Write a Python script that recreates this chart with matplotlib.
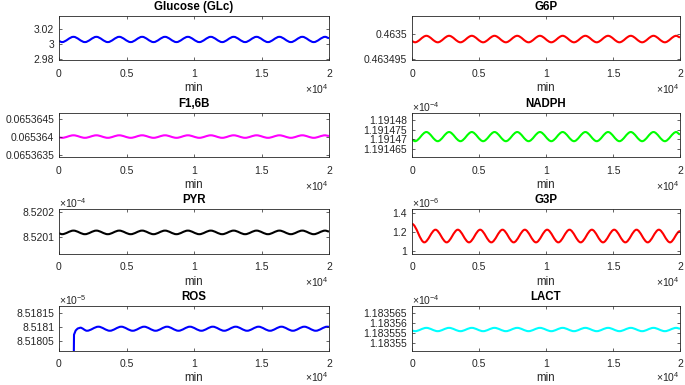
import matplotlib
matplotlib.use('Agg')
import matplotlib.pyplot as plt
from matplotlib.path import Path
from matplotlib.patches import PathPatch

plt.rcParams['font.family'] = ['Liberation Sans', 'DejaVu Sans']
plt.rcParams['mathtext.fontset'] = 'custom'
plt.rcParams['mathtext.rm'] = 'Liberation Sans'
plt.rcParams['mathtext.it'] = 'Liberation Sans:italic'
plt.rcParams['mathtext.bf'] = 'Liberation Sans:bold'

GRAY = '#262626'

# ------------------------------------------------------------
# data (min); knots = start, alternating troughs/peaks, end
# ------------------------------------------------------------
t_osc = [0, 225, 1072, 1920, 2767, 3615, 4462, 5310, 6157, 7005, 7852, 8700,
         9547, 10395, 11242, 12090, 12937, 13785, 14632, 15480, 16327, 17175,
         18022, 18870, 19717, 20000]

glucose = [3.0042] + [3.003, 3.010] * 12 + [3.0083]
g6p = [0.4634985] + [0.4634983, 0.4634996] * 12 + [0.4634993]
f16b = [0.06536399] + [0.06536398, 0.06536405] * 12 + [0.06536403]
nadph = [1.1914699] + [1.1914691, 1.1914738] * 12 + [1.1914726]      # x1e-4
pyr = [8.520113] + [8.5201098, 8.5201246] * 12 + [8.5201209]          # x1e-4
lact = [1.1835562] + [1.1835559, 1.1835576] * 12 + [1.1835572]        # x1e-4

t_g3p = [0, 920, 1753, 2587, 3420, 4254, 5087, 5921, 6754, 7588, 8421, 9255,
         10088, 10922, 11755, 12589, 13422, 14256, 15089, 15923, 16756, 17590,
         18423, 19257, 20000]
g3p = [1.287] + [1.09, 1.225] * 11 + [1.09, 1.21]                     # x1e-6

t_ros = [1075, 1112, 1236, 1384, 1582, 2070, 2917, 3765, 4612, 5460, 6307,
         7155, 8002, 8850, 9697, 10545, 11392, 12240, 13087, 13935, 14782,
         15630, 16477, 17325, 18172, 19020, 19867, 20000]
ros = [8.5179, 8.518074, 8.518089, 8.518096, 8.518099] + \
      [8.518088, 8.5181025] * 11 + [8.518102]                          # x1e-5

x_ticks = [0, 5000, 10000, 15000, 20000]
x_ticklabels = ['0', '0.5', '1', '1.5', '2']

panels = [
    # title, t, y, color, yticks, yticklabels, ylim, exponent, n_linear
    ('Glucose (GLc)', t_osc, glucose, (0, 0, 1), [2.98, 3.0, 3.02],
     ['2.98', '3', '3.02'], (2.979, 3.038), None, 0),
    ('G6P', t_osc, g6p, (1, 0, 0), [0.463495, 0.4635],
     ['0.463495', '0.4635'], (0.46349472, 0.46350362), None, 0),
    ('F1,6B', t_osc, f16b, (1, 0, 1), [0.0653635, 0.065364, 0.0653645],
     ['0.0653635', '0.065364', '0.0653645'], (0.06536344, 0.06536468), None, 0),
    ('NADPH', t_osc, nadph, (0, 1, 0), [1.191465, 1.19147, 1.191475, 1.19148],
     ['1.191465', '1.19147', '1.191475', '1.19148'], (1.1914609, 1.1914837), '-4', 0),
    ('PYR', t_osc, pyr, (0, 0, 0), [8.5201, 8.5202],
     ['8.5201', '8.5202'], (8.5200291, 8.5202123), '-4', 0),
    ('G3P', t_g3p, g3p, (1, 0, 0), [1.0, 1.2, 1.4],
     ['1', '1.2', '1.4'], (0.968, 1.4426), '-6', 0),
    ('ROS', t_ros, ros, (0, 0, 1), [8.51805, 8.5181, 8.51815],
     ['8.51805', '8.5181', '8.51815'], (8.5180174, 8.5181765), '-5', 4),
    ('LACT', t_osc, lact, (0, 1, 1), [1.18355, 1.183555, 1.18356, 1.183565],
     ['1.18355', '1.183555', '1.18356', '1.183565'], (1.183546, 1.1835688), '-4', 0),
]


def smooth_line(ax, t, y, color, n_linear=0):
    # cubic segments with flat tangents at each knot (peaks / troughs)
    verts = [(t[0], y[0])]
    codes = [Path.MOVETO]
    for i in range(len(t) - 1):
        if i < n_linear:
            verts.append((t[i + 1], y[i + 1]))
            codes.append(Path.LINETO)
            continue
        d = (t[i + 1] - t[i]) / 3.0
        verts += [(t[i] + d, y[i]), (t[i + 1] - d, y[i + 1]), (t[i + 1], y[i + 1])]
        codes += [Path.CURVE4] * 3
    ax.add_patch(PathPatch(Path(verts, codes), fill=False, edgecolor=color,
                           linewidth=1.5, joinstyle='round', capstyle='butt'))


W, H = 685, 385
fig = plt.figure(figsize=(W / 100, H / 100), dpi=100)

col_x = [59, 412]
col_w = [270, 268]
row_top = [15.7, 112.7, 209.3, 306]
ax_h = 44.5

for k, (title, t, y, color, yt, ytl, ylim, expo, nlin) in enumerate(panels):
    r, c = divmod(k, 2)
    ax = fig.add_axes([col_x[c] / W, 1 - (row_top[r] + ax_h) / H, col_w[c] / W, ax_h / H])
    smooth_line(ax, t, y, color, nlin)
    ax.set_xlim(0, 20000)
    ax.set_ylim(*ylim)
    ax.set_xticks(x_ticks, x_ticklabels)
    ax.set_yticks(yt, ytl)
    ax.tick_params(direction='in', length=2, width=0.5, top=True, right=True,
                   labelsize=7.5, colors=GRAY)
    ax.tick_params(axis='x', pad=6)
    ax.tick_params(axis='y', pad=3.5)
    for s in ax.spines.values():
        s.set_color(GRAY)
        s.set_linewidth(0.6)
    ax.set_title(title, fontsize=8.3, fontweight='bold', pad=4.3, color='black')
    ax.set_xlabel('min', fontsize=8.3, labelpad=2.5, color=GRAY)
    ax.annotate(r'$\mathregular{\times10^{4}}$', xy=(1, 0), xycoords='axes fraction',
                xytext=(0, -26.5 if r == 3 else -28.5), textcoords='offset pixels',
                ha='right', va='center', fontsize=7.5, color=GRAY)
    if expo is not None:
        ax.annotate(r'$\mathregular{\times10^{%s}}$' % expo, xy=(0, 1),
                    xycoords='axes fraction', xytext=(0, 6), textcoords='offset pixels',
                    ha='left', va='center', fontsize=7.5, color=GRAY)

fig.savefig('out.png', dpi=100)
print("Saved: out.png")
